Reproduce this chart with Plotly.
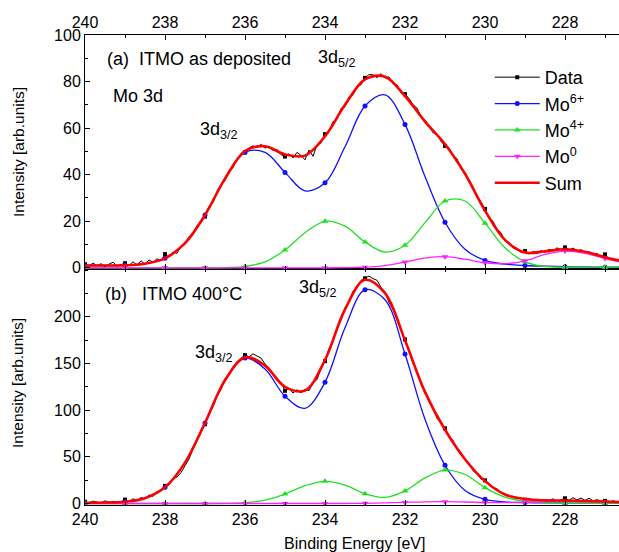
import plotly.graph_objects as go

# ---------------- measured spectra (0.1 eV scan) ----------------
energy_scan = [
    240.0, 239.9, 239.8, 239.7, 239.6, 239.5, 239.4, 239.3, 239.2, 239.1,
    239.0, 238.9, 238.8, 238.7, 238.6, 238.5, 238.4, 238.3, 238.2, 238.1,
    238.0, 237.9, 237.8, 237.7, 237.6, 237.5, 237.4, 237.3, 237.2, 237.1,
    237.0, 236.9, 236.8, 236.7, 236.6, 236.5, 236.4, 236.3, 236.2, 236.1,
    236.0, 235.9, 235.8, 235.7, 235.6, 235.5, 235.4, 235.3, 235.2, 235.1,
    235.0, 234.9, 234.8, 234.7, 234.6, 234.5, 234.4, 234.3, 234.2, 234.1,
    234.0, 233.9, 233.8, 233.7, 233.6, 233.5, 233.4, 233.3, 233.2, 233.1,
    233.0, 232.9, 232.8, 232.7, 232.6, 232.5, 232.4, 232.3, 232.2, 232.1,
    232.0, 231.9, 231.8, 231.7, 231.6, 231.5, 231.4, 231.3, 231.2, 231.1,
    231.0, 230.9, 230.8, 230.7, 230.6, 230.5, 230.4, 230.3, 230.2, 230.1,
    230.0, 229.9, 229.8, 229.7, 229.6, 229.5, 229.4, 229.3, 229.2, 229.1,
    229.0, 228.9, 228.8, 228.7, 228.6, 228.5, 228.4, 228.3, 228.2, 228.1,
    228.0, 227.9, 227.8, 227.7, 227.6, 227.5, 227.4, 227.3, 227.2, 227.1,
    227.0, 226.9, 226.8, 226.7,
]

data_a = [
    1.5, 0.6, 2.1, 0.9, 1.8, 0.4, 1.6, 2.4, 0.8, 1.3,
    2.0, 0.9, 2.6, 1.2, 3.0, 1.5, 3.4, 2.4, 3.9, 3.0,
    5.9, 4.6, 6.8, 6.2, 9.5, 10.0, 13.4, 14.2, 18.2, 19.4,
    22.0, 26.5, 28.0, 32.9, 35.6, 37.5, 41.8, 43.0, 46.8, 48.0,
    49.6, 51.5, 52.4, 51.6, 53.0, 51.4, 52.3, 50.3, 50.9, 48.6,
    47.8, 49.0, 47.2, 49.6, 48.3, 46.4, 50.6, 47.9, 52.8, 53.6,
    57.4, 58.6, 62.8, 63.9, 68.4, 69.2, 73.5, 74.3, 78.0, 78.6,
    81.6, 83.0, 82.9, 81.7, 83.4, 81.5, 82.0, 79.1, 78.6, 75.2,
    74.6, 72.8, 70.1, 68.6, 64.9, 63.5, 61.2, 58.0, 57.6, 54.3,
    52.4, 51.6, 48.1, 46.9, 42.6, 40.9, 36.8, 34.9, 30.2, 28.3,
    25.3, 21.4, 20.0, 16.6, 15.1, 11.4, 11.0, 8.6, 8.4, 6.7,
    7.2, 5.9, 7.0, 6.1, 7.4, 6.6, 8.0, 7.3, 8.6, 7.7,
    8.8, 7.6, 8.5, 7.2, 7.8, 6.6, 7.0, 5.6, 6.2, 4.7,
    5.8, 3.9, 4.1, 3.0,
]

data_b = [
    1.8, 0.5, 2.6, 1.2, 0.4, 2.9, 1.0, 2.2, 0.6, 1.9,
    4.2, 1.8, 5.1, 3.0, 6.4, 4.9, 9.2, 7.6, 12.8, 13.5,
    18.9, 19.8, 26.7, 28.4, 33.1, 40.5, 47.6, 58.3, 67.0, 75.4,
    84.9, 96.9, 103.5, 115.8, 121.9, 134.0, 137.6, 146.8, 149.5, 155.7,
    159.0, 157.2, 160.4, 158.1, 155.9, 149.6, 145.2, 138.9, 131.7, 129.9,
    120.8, 123.6, 118.4, 121.9, 118.7, 122.5, 120.9, 129.3, 132.8, 144.6,
    152.6, 166.0, 174.1, 188.3, 196.4, 209.9, 216.2, 227.4, 231.8, 239.1,
    241.3, 243.8, 241.0, 239.2, 231.6, 226.8, 215.4, 208.1, 196.6, 186.2,
    175.8, 163.4, 150.2, 141.6, 128.1, 120.9, 108.8, 102.7, 91.4, 85.9,
    80.6, 71.8, 67.4, 58.2, 54.6, 46.5, 42.9, 35.1, 31.9, 26.3,
    24.8, 21.6, 17.1, 15.9, 11.6, 10.4, 7.5, 7.8, 5.2, 5.9,
    4.1, 5.3, 3.2, 4.6, 2.7, 4.4, 3.0, 5.0, 2.6, 3.9,
    5.6, 3.4, 6.2, 3.8, 5.9, 3.3, 5.7, 2.9, 4.1, 2.4,
    2.8, 1.7, 2.9, 1.6,
]

# ---------------- fitted components (0.5 eV grid) ----------------
energy_fit = [
    240.0, 239.5, 239.0, 238.5, 238.0, 237.5, 237.0, 236.5, 236.0, 235.5,
    235.0, 234.5, 234.0, 233.5, 233.0, 232.5, 232.0, 231.5, 231.0, 230.5,
    230.0, 229.5, 229.0, 228.5, 228.0, 227.5, 227.0, 226.5,
]

mo6_a = [1.0, 1.0, 1.1, 1.8, 4.1, 10.6, 22.7, 38.2, 49.6, 49.6,
         41.0, 33.1, 36.5, 52.0, 69.5, 74.3, 61.6, 39.2, 19.6, 8.0,
         3.2, 1.6, 1.0, 0.7, 0.5, 0.4, 0.3, 0.3]
mo4_a = [0.0, 0.0, 0.0, 0.0, 0.0, 0.0, 0.0, 0.1, 0.6, 2.6,
         7.7, 15.1, 20.0, 17.9, 11.1, 6.8, 9.7, 19.4, 28.7, 28.7,
         19.2, 8.6, 2.6, 0.6, 0.3, 0.3, 0.3, 0.3]
mo0_a = [0.0, 0.0, 0.0, 0.0, 0.0, 0.0, 0.0, 0.0, 0.0, 0.0,
         0.0, 0.0, 0.0, 0.1, 0.3, 1.0, 2.5, 4.2, 4.8, 3.7,
         2.2, 1.8, 3.0, 5.8, 7.2, 6.2, 4.0, 2.0]
sum_a = [1.0, 1.0, 1.1, 1.8, 4.1, 10.6, 22.7, 38.3, 50.2, 52.2,
         48.7, 48.2, 56.5, 70.0, 80.9, 82.1, 73.8, 62.8, 53.1, 40.4,
         24.6, 12.0, 6.6, 7.1, 8.0, 6.9, 4.6, 2.6]

mo6_b = [0.8, 1.0, 1.9, 5.7, 17.3, 43.8, 86.4, 132.0, 155.8, 144.2,
         114.9, 102.0, 130.0, 188.3, 229.0, 218.3, 160.2, 90.2, 41.0, 14.0,
         4.5, 1.8, 1.0, 0.7, 0.5, 0.4, 0.3, 0.3]
mo4_b = [0.0, 0.0, 0.0, 0.0, 0.0, 0.0, 0.0, 0.1, 0.8, 3.6,
         10.1, 19.1, 23.8, 19.8, 10.5, 6.5, 13.5, 27.4, 35.8, 31.1,
         17.0, 6.9, 2.5, 0.8, 0.4, 0.3, 0.3, 0.3]
mo0_b = [0.0, 0.0, 0.0, 0.0, 0.0, 0.0, 0.0, 0.0, 0.0, 0.0,
         0.0, 0.0, 0.0, 0.0, 0.2, 0.6, 1.2, 1.8, 2.0, 1.6,
         1.0, 0.9, 1.3, 1.9, 2.2, 2.0, 1.5, 0.9]
sum_b = [0.8, 1.0, 1.9, 5.7, 17.3, 43.8, 86.4, 132.1, 156.6, 147.8,
         125.0, 121.1, 153.8, 208.1, 239.7, 225.4, 174.9, 119.4, 79.0, 47.5,
         24.0, 9.6, 4.8, 3.4, 3.1, 2.7, 2.1, 1.5]

# ---------------- axis ticks ----------------
energy_ticks = [240, 238, 236, 234, 232, 230, 228]
ticks_a = [0, 20, 40, 60, 80, 100]
ticks_b = [0, 50, 100, 150, 200]

FONT = "Arial, 'Liberation Sans', sans-serif"
BLACK, BLUE, GREEN, MAGENTA, RED = "#000000", "#1010ff", "#22e022", "#ff20ff", "#ff0000"

fig = go.Figure()


def at_whole_ev(xs, ys):
    """Points that sit on whole-eV energies (where symbols are drawn)."""
    pts = [(x, y) for x, y in zip(xs, ys) if abs(x - round(x)) < 1e-6]
    return [p[0] for p in pts], [p[1] for p in pts]


def add_panel(xa, ya, data, mo6, mo4, mo0, total):
    common = dict(xaxis=xa, yaxis=ya, showlegend=False, hoverinfo="skip")
    fig.add_trace(go.Scatter(x=energy_scan, y=data, mode="lines",
                             line=dict(color=BLACK, width=1), **common))
    mx, my = at_whole_ev(energy_scan, data)
    fig.add_trace(go.Scatter(x=mx, y=my, mode="markers",
                             marker=dict(symbol="square", size=4, color=BLACK), **common))
    for ys, col, sym, sz in [(mo6, BLUE, "circle", 5),
                             (mo4, GREEN, "triangle-up", 6),
                             (mo0, MAGENTA, "triangle-down", 6)]:
        fig.add_trace(go.Scatter(x=energy_fit, y=ys, mode="lines",
                                 line=dict(color=col, width=1.3, shape="spline", smoothing=1.0),
                                 **common))
        mx, my = at_whole_ev(energy_fit, ys)
        fig.add_trace(go.Scatter(x=mx, y=my, mode="markers",
                                 marker=dict(symbol=sym, size=sz, color=col), **common))
    fig.add_trace(go.Scatter(x=energy_fit, y=total, mode="lines",
                             line=dict(color=RED, width=2.6, shape="spline", smoothing=1.0),
                             **common))


add_panel("x2", "y2", data_a, mo6_a, mo4_a, mo0_a, sum_a)
add_panel("x", "y", data_b, mo6_b, mo4_b, mo0_b, sum_b)

# legend entries
legend_items = [
    ("Data", BLACK, 1, "square", 4, "lines+markers"),
    ("Mo<sup>6+</sup>", BLUE, 1.3, "circle", 5, "lines+markers"),
    ("Mo<sup>4+</sup>", GREEN, 1.3, "triangle-up", 6, "lines+markers"),
    ("Mo<sup>0</sup>", MAGENTA, 1.3, "triangle-down", 6, "lines+markers"),
    ("Sum", RED, 2.6, "circle", 0, "lines"),
]
for name, col, w, sym, sz, mode in legend_items:
    fig.add_trace(go.Scatter(x=[None], y=[None], mode=mode, name=name,
                             line=dict(color=col, width=w),
                             marker=dict(symbol=sym, size=sz, color=col),
                             xaxis="x2", yaxis="y2", hoverinfo="skip"))

X_RANGE = [240, 226.65]
SPLIT = 0.5021

axis_common = dict(ticks="inside", ticklen=5, tickwidth=1, tickcolor=BLACK,
                   showline=True, linecolor=BLACK, linewidth=1,
                   showgrid=False, zeroline=False,
                   tickfont=dict(size=16, family=FONT, color=BLACK))
minor_x = dict(dtick=1, tick0=240, ticks="inside", ticklen=3, tickcolor=BLACK, showgrid=False)

fig.update_layout(
    width=619, height=552,
    margin=dict(l=85, r=0, t=35, b=47),
    plot_bgcolor="white", paper_bgcolor="white",
    font=dict(family=FONT, size=16, color=BLACK),
    hovermode=False,
    legend=dict(x=0.758, y=0.949, xanchor="left", yanchor="top",
                bgcolor="rgba(0,0,0,0)", borderwidth=0,
                font=dict(size=18, family=FONT, color=BLACK),
                itemwidth=45, tracegroupgap=0),
    xaxis=dict(domain=[0, 1], anchor="y", range=X_RANGE, tickmode="array",
               tickvals=energy_ticks, mirror="ticks", minor=minor_x, **axis_common),
    xaxis2=dict(domain=[0, 1], anchor="y2", side="top", range=X_RANGE, tickmode="array",
                tickvals=energy_ticks, mirror="ticks", minor=minor_x, **axis_common),
    yaxis=dict(domain=[0, SPLIT], anchor="x", range=[-1.6, 251.3], tickmode="array",
               tickvals=ticks_b,
               minor=dict(dtick=25, tick0=0, ticks="inside", ticklen=3, tickcolor=BLACK,
                          showgrid=False),
               **axis_common),
    yaxis2=dict(domain=[SPLIT, 1], anchor="x2", range=[-0.5, 100], tickmode="array",
                tickvals=ticks_a,
                minor=dict(dtick=10, tick0=0, ticks="inside", ticklen=3, tickcolor=BLACK,
                           showgrid=False),
                **axis_common),
)

NB = "\u00a0"
notes = [
    (f"(a){NB}{NB}ITMO as deposited", 0.0375, 0.950, 18),
    ("Mo 3d", 0.048, 0.871, 18),
    ("3d<sub>5/2</sub>", 0.4326, 0.949, 18),
    ("3d<sub>3/2</sub>", 0.2116, 0.796, 18),
    (f"(b){NB}{NB}{NB}ITMO 400°C", 0.033, 0.450, 18),
    ("3d<sub>5/2</sub>", 0.397, 0.4617, 18),
    ("3d<sub>3/2</sub>", 0.2022, 0.3213, 18),
]
for text, x, y, size in notes:
    fig.add_annotation(text=text, x=x, y=y, xref="paper", yref="paper",
                       xanchor="left", yanchor="middle", showarrow=False,
                       font=dict(size=size, family=FONT, color=BLACK))

for y in (0.751, 0.2596):
    fig.add_annotation(text="Intensity [arb.units]", textangle=-90,
                       x=-0.1255, y=y, xref="paper", yref="paper",
                       xanchor="center", yanchor="middle", showarrow=False,
                       font=dict(size=15.5, family=FONT, color=BLACK))

fig.add_annotation(text="Binding Energy [eV]", x=0.5056, y=-0.0809,
                   xref="paper", yref="paper", xanchor="center", yanchor="middle",
                   showarrow=False, font=dict(size=16, family=FONT, color=BLACK))

fig.write_html("out.html")
